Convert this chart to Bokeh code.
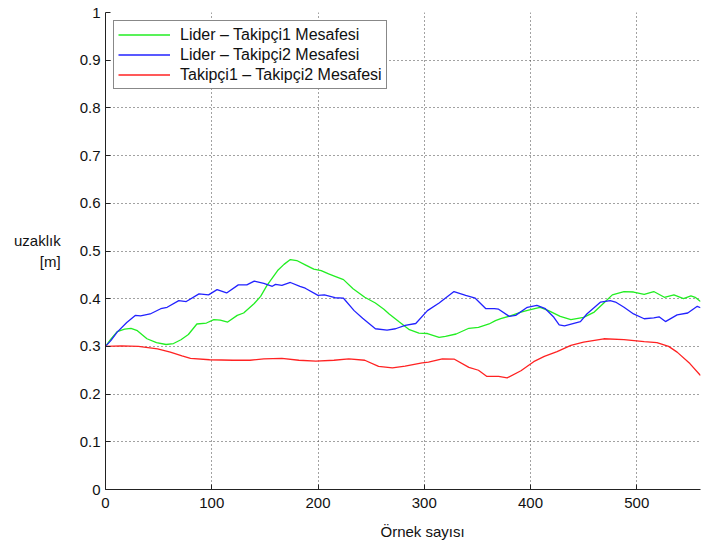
from bokeh.plotting import figure
from bokeh.models import Range1d, FixedTicker, Title
from bokeh.embed import file_html
from bokeh.resources import INLINE

# ---- data ----
green_x = [0, 5, 11, 18, 24, 30, 39, 48, 57, 64, 71, 78, 86, 95, 102, 108, 115, 124, 130, 140,
           146, 152, 162, 168, 174, 180, 188, 196, 203, 210, 216, 224, 233, 244, 254, 262, 267,
           276, 286, 295, 303, 314, 320, 330, 342, 351, 361, 367, 372, 381, 391, 400, 409, 417,
           428, 438, 450, 460, 469, 477, 488, 497, 507, 516, 526, 535, 544, 551, 555, 560]
green_y = [0.300, 0.315, 0.331, 0.336, 0.338, 0.333, 0.316, 0.308, 0.304, 0.306, 0.314, 0.325,
           0.347, 0.349, 0.356, 0.355, 0.351, 0.365, 0.370, 0.390, 0.405, 0.428, 0.459, 0.472,
           0.482, 0.480, 0.471, 0.462, 0.459, 0.452, 0.447, 0.440, 0.421, 0.403, 0.391, 0.378,
           0.368, 0.352, 0.335, 0.328, 0.327, 0.319, 0.321, 0.326, 0.338, 0.340, 0.347, 0.354,
           0.358, 0.364, 0.372, 0.377, 0.382, 0.375, 0.363, 0.356, 0.361, 0.372, 0.391, 0.408,
           0.415, 0.414, 0.409, 0.415, 0.403, 0.408, 0.400, 0.406, 0.403, 0.394]

blue_x = [0, 5, 11, 20, 28, 33, 42, 52, 58, 69, 76, 88, 97, 105, 114, 125, 133, 140, 149, 157,
          160, 166, 174, 183, 188, 200, 206, 216, 224, 234, 242, 254, 265, 273, 282, 292, 303,
          314, 328, 339, 348, 358, 366, 370, 380, 386, 397, 406, 414, 422, 427, 432, 447, 453,
          466, 475, 480, 488, 497, 507, 516, 521, 527, 538, 548, 557, 560]
blue_y = [0.300, 0.312, 0.330, 0.350, 0.365, 0.364, 0.368, 0.379, 0.382, 0.396, 0.394, 0.410,
          0.408, 0.419, 0.412, 0.429, 0.429, 0.437, 0.432, 0.426, 0.430, 0.428, 0.434, 0.426,
          0.422, 0.407, 0.408, 0.402, 0.401, 0.375, 0.359, 0.337, 0.334, 0.337, 0.344, 0.348,
          0.375, 0.391, 0.415, 0.407, 0.401, 0.379, 0.379, 0.378, 0.363, 0.365, 0.382, 0.386,
          0.379, 0.361, 0.345, 0.343, 0.352, 0.368, 0.393, 0.396, 0.393, 0.382, 0.368, 0.358,
          0.360, 0.362, 0.352, 0.366, 0.370, 0.384, 0.381]

red_x = [0, 15, 31, 49, 61, 72, 80, 98, 120, 136, 149, 166, 182, 198, 215, 229, 244, 257, 270,
         282, 298, 304, 317, 328, 342, 351, 359, 370, 378, 391, 403, 413, 425, 438, 450, 469,
         488, 507, 519, 530, 538, 550, 560]
red_y = [0.300, 0.301, 0.300, 0.295, 0.288, 0.280, 0.275, 0.272, 0.271, 0.271, 0.274, 0.275,
         0.271, 0.269, 0.271, 0.274, 0.271, 0.258, 0.255, 0.2585, 0.2655, 0.267, 0.274, 0.2735,
         0.256, 0.250, 0.237, 0.237, 0.234, 0.249, 0.268, 0.279, 0.289, 0.302, 0.309, 0.316,
         0.314, 0.310, 0.308, 0.300, 0.288, 0.264, 0.239]

series_names = ["Lider \u2013 Takipçi1 Mesafesi", "Lider \u2013 Takipçi2 Mesafesi",
                "Takipçi1 \u2013 Takipçi2 Mesafesi"]
x_ticks = [0, 100, 200, 300, 400, 500]
y_ticks = [0, 0.1, 0.2, 0.3, 0.4, 0.5, 0.6, 0.7, 0.8, 0.9, 1]
y_tick_labels = ["0", "0.1", "0.2", "0.3", "0.4", "0.5", "0.6", "0.7", "0.8", "0.9", "1"]
x_label = "Örnek sayısı"
y_label = "uzaklık\n[m]"

FONT = "Liberation Sans"
TXT = "#111111"

p = figure(width=701, height=549, output_backend="svg", toolbar_location=None,
           x_range=Range1d(0, 560), y_range=Range1d(0, 1),
           min_border_left=105, min_border_right=1, min_border_top=12, min_border_bottom=60)
p.outline_line_color = None
p.background_fill_color = "white"
p.border_fill_color = "white"

colors = ["#22ee22", "#2222ff", "#ff2222"]
for xs, ys, c, name in zip([green_x, blue_x, red_x], [green_y, blue_y, red_y], colors, series_names):
    p.line(xs, ys, line_color=c, line_width=1.3, legend_label=name)

# axes
p.xaxis.ticker = FixedTicker(ticks=x_ticks)
p.yaxis.ticker = FixedTicker(ticks=y_ticks)
p.yaxis.major_label_overrides = {t: l for t, l in zip(y_ticks, y_tick_labels)}
for ax in (p.xaxis[0], p.yaxis[0]):
    ax.major_tick_in = 5
    ax.major_tick_out = 0
    ax.minor_tick_in = 0
    ax.minor_tick_out = 0
    ax.axis_line_color = "#222222"
    ax.major_tick_line_color = "#222222"
    ax.major_label_text_font = FONT
    ax.major_label_text_font_size = "15px"
    ax.major_label_text_color = TXT
    ax.axis_label_text_font = FONT
    ax.axis_label_text_font_size = "15px"
    ax.axis_label_text_font_style = "normal"
    ax.axis_label_text_color = TXT
p.xaxis.major_label_standoff = 8
p.yaxis.major_label_standoff = 5

# y-axis label, written horizontally
p.yaxis.axis_label = y_label
p.yaxis.axis_label_standoff = 16
p.yaxis.axis_label_orientation = "horizontal"

# x-axis label as a positioned text below the axis
p.add_layout(Title(text=x_label, align="left", offset=275, text_font=FONT,
                   text_font_size="15px", text_font_style="normal", text_color=TXT,
                   standoff=20), "below")

# grid
for g in (p.xgrid[0], p.ygrid[0]):
    g.grid_line_color = "#444444"
    g.grid_line_dash = "1 3"
    g.grid_line_width = 1
p.ygrid.ticker = FixedTicker(ticks=y_ticks[1:])
p.xgrid.ticker = FixedTicker(ticks=x_ticks[1:])

# legend
lg = p.legend[0]
lg.location = "top_left"
lg.margin = 8
lg.padding = 4
lg.spacing = 1
lg.label_height = 19
lg.glyph_height = 19
lg.glyph_width = 52
lg.label_standoff = 10
lg.label_text_font = FONT
lg.label_text_font_size = "16px"
lg.label_text_color = TXT
lg.border_line_color = "#111111"
lg.border_line_width = 1
lg.background_fill_alpha = 1
lg.background_fill_color = "white"

open("out.html", "w").write(file_html(p, INLINE))
